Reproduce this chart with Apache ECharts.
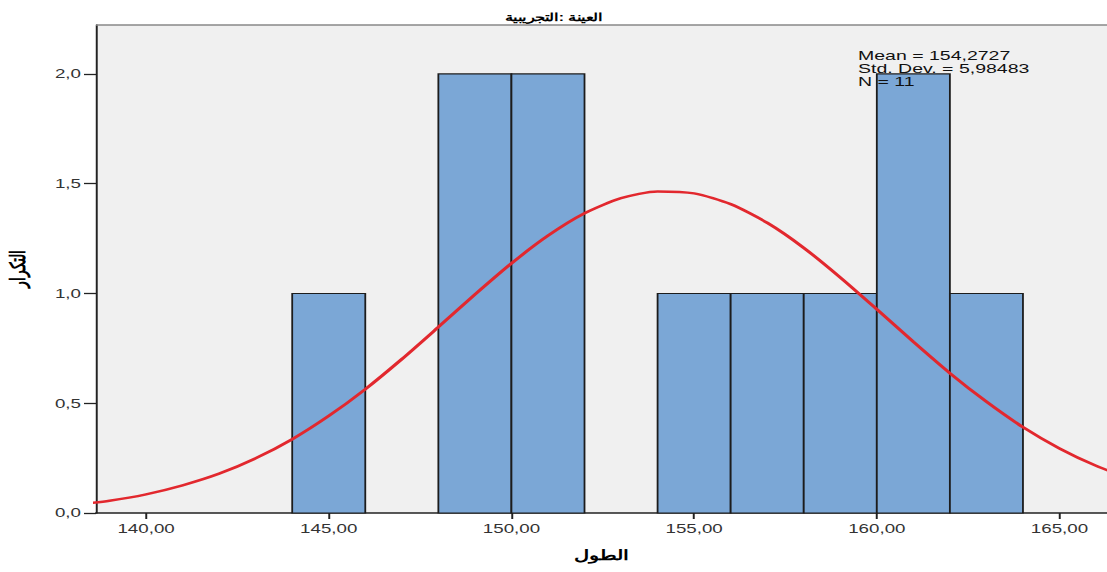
<!DOCTYPE html>
<html>
<head>
<meta charset="utf-8">
<script src="https://cdn.jsdelivr.net/npm/echarts@6/dist/echarts.min.js"></script>
<style>
html,body{margin:0;padding:0;background:#fff;overflow:hidden}
#c{width:738px;height:572px;transform:scaleX(1.5);transform-origin:0 0}
</style>
</head>
<body>
<div id="c"></div>
<script>
// Histogram bins: [start, end] and frequency
const binStarts = [144, 148, 150, 154, 156, 158, 160, 162];
const binEnds   = [146, 150, 152, 156, 158, 160, 162, 164];
const binCounts = [1, 2, 2, 1, 1, 1, 2, 1];
// Normal curve points
const curveX = [138,139,140,141,142,143,144,145,146,147,148,149,150,151,152,153,154,155,156,157,158,159,160,161,162,163,164,165,166,167];
const curveY = [0.036,0.056,0.085,0.126,0.179,0.249,0.336,0.442,0.564,0.701,0.847,0.995,1.137,1.263,1.365,1.434,1.465,1.456,1.407,1.322,1.208,1.073,0.928,0.780,0.637,0.507,0.391,0.294,0.215,0.153];
const xTicks = [140, 145, 150, 155, 160, 165];
const yTicks = [0, 0.5, 1.0, 1.5, 2.0];
const statsLines = ['Mean = 154,2727', 'Std. Dev. = 5,98483', 'N = 11'];

const chart = echarts.init(document.getElementById('c'), null, { renderer: 'svg', width: 738, height: 572 });
const fmt = (v, d) => v.toFixed(d).replace('.', ',');
const FONT = 'Liberation Sans';

chart.setOption({
  animation: false,
  title: {
    text: 'العينة :التجريبية',
    left: 'center', top: 7,
    textStyle: { fontSize: 10.5, fontWeight: 'bold', color: '#000', fontFamily: FONT }
  },
  grid: { left: 64, right: 0, top: 25, bottom: 59, show: true, backgroundColor: '#F0F0F0', borderWidth: 0, outerBoundsMode: 'none', containLabel: false },
  xAxis: {
    type: 'value', min: 138.63, max: 166.3,
    interval: 5,
    name: 'الطول', nameLocation: 'middle', nameGap: 35,
    nameTextStyle: { fontSize: 14, fontWeight: 'bold', color: '#000', fontFamily: FONT },
    axisLine: { show: true, onZero: false, lineStyle: { color: '#222', width: 1.5 } },
    axisTick: { show: true, length: 6, lineStyle: { color: '#222', width: 1.3 }, customValues: xTicks },
    axisLabel: { color: '#333', fontSize: 12.5, fontFamily: FONT, margin: 9, customValues: xTicks, formatter: v => fmt(v, 2) },
    splitLine: { show: false }
  },
  yAxis: {
    type: 'value', min: 0, max: 2.223,
    name: 'التكرار', nameLocation: 'middle', nameGap: 45,
    nameTextStyle: { fontSize: 14, fontWeight: 'bold', color: '#000', fontFamily: FONT },
    axisLine: { show: true, lineStyle: { color: '#222', width: 1.3 } },
    axisTick: { show: true, length: 8, lineStyle: { color: '#222', width: 1.3 }, customValues: yTicks },
    axisLabel: { color: '#333', fontSize: 12.5, fontFamily: FONT, margin: 10, customValues: yTicks, formatter: v => fmt(v, 1) },
    splitLine: { show: false }
  },
  graphic: [
    { type: 'line', shape: { x1: 64, y1: 25, x2: 738, y2: 25 }, style: { stroke: '#888', lineWidth: 1.5 }, z: 10 },
    { type: 'text', left: 572, top: 49, z: 100,
      style: { text: statsLines.join('\n'), font: '13px "Liberation Sans"', fill: '#111', lineHeight: 13 } }
  ],
  series: [
    {
      type: 'custom',
      renderItem: (params, api) => {
        const p0 = api.coord([api.value(0), api.value(2)]);
        const p1 = api.coord([api.value(1), 0]);
        return {
          type: 'rect',
          shape: { x: p0[0], y: p0[1], width: p1[0] - p0[0], height: p1[1] - p0[1] },
          style: { fill: '#7BA7D6', stroke: '#1c1c1c', lineWidth: 1.2 }
        };
      },
      encode: { x: [0, 1], y: 2 },
      data: binStarts.map((s, i) => [s, binEnds[i], binCounts[i]]),
      z: 2
    },
    {
      type: 'line',
      data: curveX.map((x, i) => [x, curveY[i]]),
      smooth: 0.25, symbol: 'none',
      lineStyle: { color: '#E2282E', width: 2.5 },
      z: 5
    }
  ]
});
</script>
</body>
</html>
